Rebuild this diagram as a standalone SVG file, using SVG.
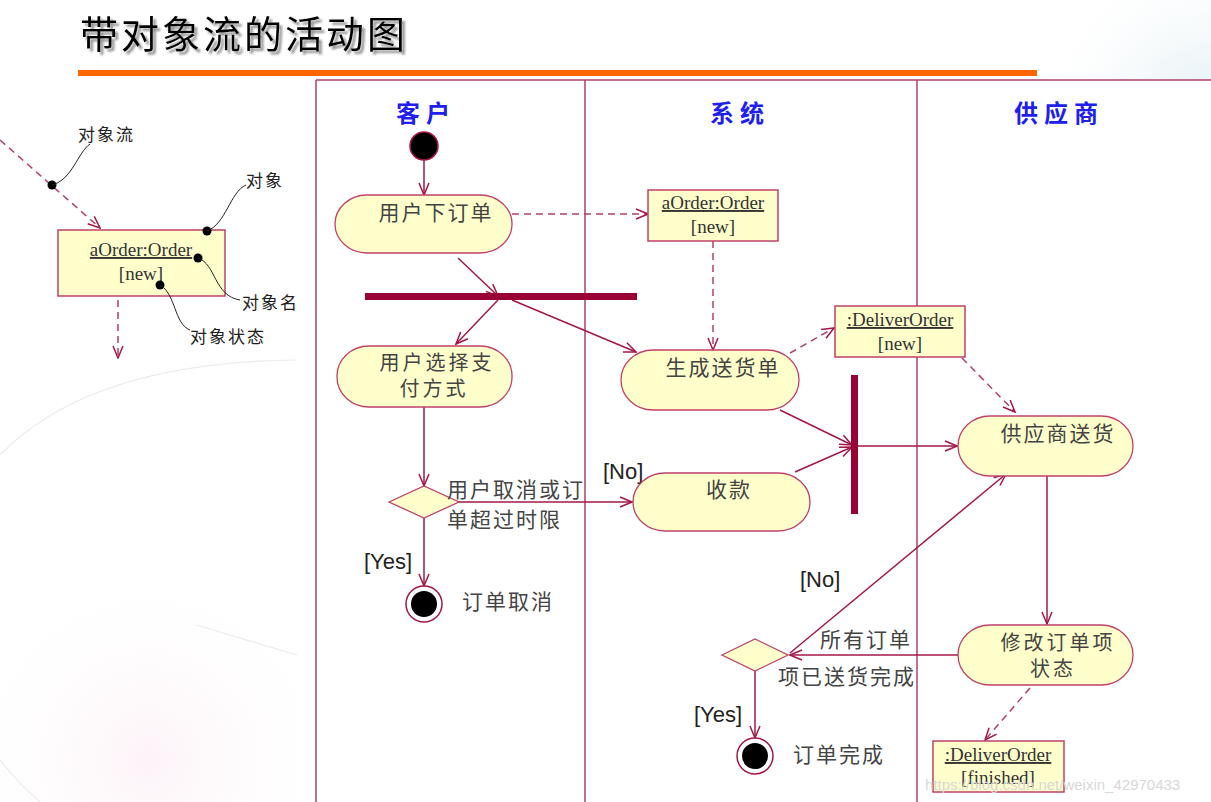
<svg xmlns="http://www.w3.org/2000/svg" width="1211" height="802" viewBox="0 0 1211 802">
<defs>
<marker id="arr" viewBox="0 0 14 12" refX="13" refY="6" markerWidth="14" markerHeight="12" orient="auto" markerUnits="userSpaceOnUse">
<path d="M1,1 L13,6 L1,11" fill="none" stroke="#a3174a" stroke-width="1.5"/>
</marker>
<filter id="sh" x="-5%" y="-20%" width="115%" height="150%">
<feDropShadow dx="3" dy="3" stdDeviation="0.8" flood-color="#888" flood-opacity="0.9"/>
</filter>
<radialGradient id="tr" cx="1211" cy="120" r="180" gradientUnits="userSpaceOnUse">
<stop offset="0" stop-color="#dcecf2"/>
<stop offset="1" stop-color="#ffffff" stop-opacity="0"/>
</radialGradient>
<radialGradient id="lb" cx="150" cy="760" r="200" gradientUnits="userSpaceOnUse">
<stop offset="0" stop-color="#fdf3f8"/>
<stop offset="1" stop-color="#ffffff" stop-opacity="0"/>
</radialGradient>
<style>
.act{fill:#ffffcc;stroke:#c0406a;stroke-width:1.3}
.obj{fill:#ffffcc;stroke:#c0406a;stroke-width:1.5}
.ln{fill:none;stroke:#a3174a;stroke-width:1.5;marker-end:url(#arr)}
.dash{fill:none;stroke:#b0406a;stroke-width:1.5;stroke-dasharray:7,5;marker-end:url(#arr)}
.lane{stroke:#b0406a;stroke-width:1.5;fill:none}
.bar{fill:#990033}
.at{font-family:"Noto Sans CJK SC",sans-serif;font-size:21px;fill:#444;letter-spacing:2px}
.at2{font-family:"Noto Sans CJK SC",sans-serif;font-size:20px;fill:#444;letter-spacing:3px}
.lab{font-family:"Noto Sans CJK SC",sans-serif;font-size:21px;fill:#444;letter-spacing:2px}
.gd{font-family:"Liberation Sans",Arial,sans-serif;font-size:22px;fill:#222}
.ot{font-family:"Liberation Serif","Times New Roman",serif;font-size:19px;fill:#333;text-anchor:middle}
.hd{font-family:"Noto Sans CJK SC",sans-serif;font-size:24px;font-weight:bold;fill:#2020ee;letter-spacing:6px;text-anchor:middle}
.lg{font-family:"Noto Sans CJK SC",sans-serif;font-size:17px;fill:#222;letter-spacing:2px}
.cl{fill:none;stroke:#222;stroke-width:1}
</style>
</defs>
<rect width="1211" height="802" fill="#ffffff"/>
<rect x="1000" y="0" width="211" height="80" fill="url(#tr)"/>
<rect x="0" y="560" width="297" height="242" fill="url(#lb)"/>
<path d="M0,455 Q90,362 297,360" fill="none" stroke="#ececec" stroke-width="1.2"/>
<path d="M0,760 Q20,785 40,802" fill="none" stroke="#ececec" stroke-width="1.2"/>
<path d="M196,625 L297,655" fill="none" stroke="#ececec" stroke-width="1.2"/>

<g id="title">
<text x="80" y="48" font-family="Noto Sans CJK SC,sans-serif" font-size="38" fill="#000" letter-spacing="3" filter="url(#sh)">带对象流的活动图</text>
<rect x="78" y="70" width="959" height="6" fill="#ff6600"/>
</g>

<g id="legend">
<path class="dash" d="M0,140 L100,228"/>
<path class="dash" d="M118,300 L118,358"/>
<rect class="obj" x="58" y="230" width="167" height="66"/>
<text class="ot" x="141" y="256" text-decoration="underline">aOrder:Order</text>
<text class="ot" x="141" y="280">[new]</text>
<circle cx="52" cy="185" r="4.5" fill="#000"/>
<circle cx="207" cy="231" r="4.5" fill="#000"/>
<circle cx="198" cy="258" r="4.5" fill="#000"/>
<circle cx="160" cy="285" r="4.5" fill="#000"/>
<path class="cl" d="M52,185 C72,180 78,152 90,144"/>
<path class="cl" d="M207,231 C226,224 230,192 246,185"/>
<path class="cl" d="M198,258 C216,264 214,296 240,300"/>
<path class="cl" d="M160,285 C176,294 174,324 190,330"/>
<text class="lg" x="78" y="141">对象流</text>
<text class="lg" x="246" y="187">对象</text>
<text class="lg" x="242" y="309">对象名</text>
<text class="lg" x="190" y="343">对象状态</text>
</g>

<g id="lanes">
<path class="lane" d="M316,80 L1211,80 M316,80 L316,802 M585,80 L585,802 M917,80 L917,802"/>
<text class="hd" x="426" y="122">客户</text>
<text class="hd" x="740" y="122">系统</text>
<text class="hd" x="1059" y="122">供应商</text>
</g>

<g id="connectors">
<path class="ln" d="M424,160 L424,195"/>
<path class="dash" d="M512,214 L648,214"/>
<path class="dash" d="M713,241 L713,350"/>
<path class="ln" d="M458,258 L498,296"/>
<path class="ln" d="M498,300 L456,344"/>
<path class="ln" d="M512,300 L636,352"/>
<path class="ln" d="M780,410 L852,445"/>
<path class="ln" d="M795,472 L852,447"/>
<path class="ln" d="M857,446 L957,446"/>
<path class="dash" d="M790,353 L834,328"/>
<path class="dash" d="M962,358 L1015,412"/>
<path class="ln" d="M1047,476 L1047,624"/>
<path class="ln" d="M958,655 L790,655"/>
<path class="ln" d="M790,653 L1006,474"/>
<path class="ln" d="M755,671 L755,738"/>
<path class="dash" d="M1030,688 L985,740"/>
<path class="ln" d="M424,407 L424,486"/>
<path class="ln" d="M459,502 L632,502"/>
<path class="ln" d="M424,518 L424,586"/>
</g>

<g id="start"><circle cx="424" cy="146" r="14" fill="#000" stroke="#a3174a" stroke-width="1.5"/></g>

<g id="place-order">
<rect class="act" x="335" y="195" width="177" height="58" rx="32" ry="29"/>
<text class="at" x="436" y="220" text-anchor="middle">用户下订单</text>
</g>
<g id="fork"><rect class="bar" x="365" y="293" width="272" height="7"/></g>
<g id="choose-pay">
<rect class="act" x="337" y="346" width="175" height="61" rx="32" ry="30"/>
<text class="at2" text-anchor="middle"><tspan x="437" y="370">用户选择支</tspan><tspan x="434" y="396">付方式</tspan></text>
</g>
<g id="obj-order">
<rect class="obj" x="648" y="190" width="130" height="51"/>
<text class="ot" x="713" y="209" text-decoration="underline">aOrder:Order</text>
<text class="ot" x="713" y="233">[new]</text>
</g>
<g id="gen-deliver">
<rect class="act" x="621" y="350" width="178" height="60" rx="32" ry="30"/>
<text class="at" x="723" y="375" text-anchor="middle">生成送货单</text>
</g>
<g id="obj-deliver-new">
<rect class="obj" x="835" y="306" width="130" height="51"/>
<text class="ot" x="900" y="326" text-decoration="underline">:DeliverOrder</text>
<text class="ot" x="900" y="350">[new]</text>
</g>
<g id="join"><rect class="bar" x="851" y="375" width="7" height="139"/></g>
<g id="decision1">
<polygon points="389,502 424,486 459,502 424,518" fill="#ffffcc" stroke="#c0406a" stroke-width="1.3"/>
<text class="lab" x="447" y="497">用户取消或订</text>
<text class="lab" x="447" y="527">单超过时限</text>
<text class="gd" x="603" y="479">[No]</text>
<text class="gd" x="364" y="569">[Yes]</text>
</g>
<g id="receive">
<rect class="act" x="633" y="473" width="177" height="58" rx="32" ry="29"/>
<text class="at" x="729" y="497" text-anchor="middle">收款</text>
</g>
<g id="end-cancel">
<circle cx="424" cy="604" r="18" fill="#fff" stroke="#a3174a" stroke-width="1.5"/>
<circle cx="424" cy="604" r="13" fill="#000"/>
<text class="lab" x="462" y="609">订单取消</text>
</g>
<g id="supply">
<rect class="act" x="958" y="416" width="175" height="60" rx="32" ry="30"/>
<text class="at" x="1058" y="441" text-anchor="middle">供应商送货</text>
</g>
<g id="modify">
<rect class="act" x="958" y="625" width="175" height="60" rx="32" ry="30"/>
<text class="at2" text-anchor="middle"><tspan x="1058" y="650">修改订单项</tspan><tspan x="1053" y="676">状态</tspan></text>
</g>
<g id="decision2">
<polygon points="722,655 755,639 788,655 755,671" fill="#ffffcc" stroke="#c0406a" stroke-width="1.3"/>
<text class="lab" x="820" y="647">所有订单</text>
<text class="lab" x="778" y="684">项已送货完成</text>
<text class="gd" x="800" y="587">[No]</text>
<text class="gd" x="694" y="722">[Yes]</text>
</g>
<g id="end-done">
<circle cx="755" cy="756" r="18" fill="#fff" stroke="#a3174a" stroke-width="1.5"/>
<circle cx="755" cy="756" r="13" fill="#000"/>
<text class="lab" x="793" y="762">订单完成</text>
</g>
<g id="obj-deliver-finished">
<rect class="obj" x="933" y="741" width="131" height="51"/>
<text class="ot"><tspan x="998" y="761" text-decoration="underline">:DeliverOrder</tspan><tspan x="998" y="784">[finished]</tspan></text>
</g>
<text x="925" y="790" font-family="Liberation Sans,Arial,sans-serif" font-size="15" fill="#d8d8d8">https://blog.csdn.net/weixin_42970433</text>
</svg>
